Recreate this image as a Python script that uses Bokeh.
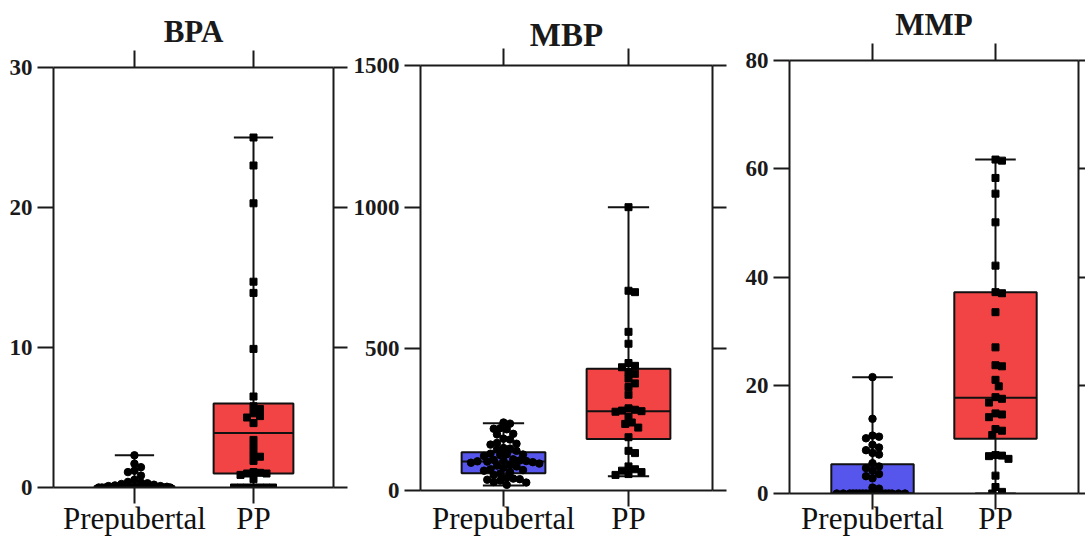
from bokeh.plotting import figure
from bokeh.models import LinearAxis, FixedTicker, Range1d, ColumnDataSource
from bokeh.embed import file_html
from bokeh.resources import INLINE

# ---------------- data ----------------
categories = ["Prepubertal", "PP"]
group_x = [1, 2]
titles = ["BPA", "MBP", "MMP"]

bpa_pre = [2.3, 1.7, 1.45, 1.2, 1.1, 0.85, 0.55, 0.4, 0.35, 0.3, 0.25, 0.2, 0.15,
           0.1, 0.1, 0.05, 0.05, 0, 0, 0, 0, 0, 0, 0, 0, 0, 0, 0, 0, 0, 0, 0,
           0, 0, 0, 0, 0, 0, 0]
bpa_pp = [25.0, 23.0, 20.3, 14.7, 13.9, 9.9, 6.5, 5.8, 5.6, 5.3, 5.1, 5.0, 4.6,
          3.4, 2.9, 2.4, 2.2, 1.9, 1.1, 1.05, 1.0, 1.0, 0.9, 0.6, 0, 0, 0, 0,
          0, 0, 0]
bpa_min = [0.0, 0.0]
bpa_q1 = [0.0, 1.0]
bpa_med = [0.0, 3.9]
bpa_q3 = [0.1, 6.0]
bpa_max = [2.3, 25.0]

mbp_pre = [240, 236, 220, 218, 216, 200, 198, 183, 180, 168, 165, 162, 150, 148,
           145, 140, 130, 128, 127, 125, 122, 110, 108, 106, 105, 104, 103, 102,
           100, 98, 95, 90, 88, 85, 80, 75, 72, 70, 65, 60, 55, 45, 42, 40, 38,
           35, 30, 28, 20]
mbp_pp = [1000, 705, 700, 560, 518, 450, 440, 435, 418, 412, 395, 378, 365, 338,
          290, 285, 282, 280, 278, 260, 240, 235, 222, 188, 140, 132, 85, 75, 70,
          65, 58, 55]
mbp_min = [18, 50]
mbp_q1 = [61, 182]
mbp_med = [102, 280]
mbp_q3 = [135, 430]
mbp_max = [237, 1000]

mmp_pre = [21.5, 13.8, 10.7, 10.5, 10.2, 9.0, 8.5, 8.0, 7.5, 7.2, 5.6, 5.0, 4.7,
           4.2, 3.6, 3.2, 2.8, 1.1, 0.9, 0, 0, 0, 0, 0, 0, 0, 0, 0, 0, 0, 0, 0,
           0, 0, 0, 0, 0]
mmp_pp = [61.7, 61.5, 58.3, 55.4, 50.1, 42.1, 37.2, 37.0, 33.5, 27.0, 23.7, 23.5,
          21.0, 19.8, 17.8, 17.5, 16.8, 14.8, 14.6, 14.1, 11.9, 11.6, 10.8, 7.1,
          7.0, 6.9, 6.4, 3.3, 1.2, 0.3, 0.0]
mmp_min = [0.0, 0.0]
mmp_q1 = [0.0, 10.1]
mmp_med = [0.0, 17.7]
mmp_q3 = [5.4, 37.2]
mmp_max = [21.5, 61.7]

bpa_ticks = [0, 10, 20, 30]
mbp_ticks = [0, 500, 1000, 1500]
mmp_ticks = [0, 20, 40, 60, 80]

# ---------------- style ----------------
FONT = "Liberation Serif"
INK = "#1a1a1a"
BLUE = "#5656EC"
RED = "#F24444"
BOX_W = 0.67
CAP_W = 0.33


def swarm(vals, ppx, ppy, d, half):
    """Simple beeswarm: horizontal offsets (data units) avoiding overlaps."""
    step = d / 2.0
    placed = []
    offs = []
    kmax = int(half // step)
    cands = [0]
    for k in range(1, kmax + 1):
        cands += [k * step, -k * step]
    for v in vals:
        y = v * ppy
        best, best_d = 0, -1
        chosen = None
        for c in cands:
            md = min([((c - px) ** 2 + (y - py) ** 2) ** 0.5 for px, py in placed] or [1e9])
            if md >= d:
                chosen = c
                break
            if md > best_d:
                best, best_d = c, md
        if chosen is None:
            chosen = best
        placed.append((chosen, y))
        offs.append(chosen / ppx)
    return offs


def panel(title, pre, pp, mn, q1, md, q3, mx, ticks, ymax, xr, left_px, width,
          bl, br, bt, bb, tsize, tstand, rtick, bstand):
    p = figure(width=width, height=538, x_range=Range1d(*xr), y_range=Range1d(0, ymax),
               output_backend="svg", toolbar_location=None, title=title,
               x_axis_location=None, y_axis_location=None,
               min_border_left=bl, min_border_right=br,
               min_border_top=bt, min_border_bottom=bb)
    p.styles = {"position": "absolute", "left": f"{left_px}px", "top": "0px"}
    p.grid.visible = False
    p.outline_line_color = None
    p.background_fill_color = "white"
    p.border_fill_color = "white"

    p.title.align = "center"
    p.title.text_font = FONT
    p.title.text_font_style = "bold"
    p.title.text_font_size = tsize
    p.title.text_color = INK
    p.title.standoff = tstand

    common = dict(axis_line_width=2, axis_line_color=INK, major_tick_line_width=2,
                  major_tick_line_color=INK, major_tick_in=0, minor_tick_in=0,
                  minor_tick_out=0)

    left = LinearAxis(ticker=FixedTicker(ticks=ticks), major_tick_out=16,
                      major_label_text_font=FONT, major_label_text_font_style="bold",
                      major_label_text_font_size="23px", major_label_text_color=INK,
                      major_label_standoff=5, **common)
    p.add_layout(left, "left")
    right = LinearAxis(ticker=FixedTicker(ticks=ticks), major_tick_out=rtick,
                       major_label_overrides={t: "" for t in ticks},
                       major_label_text_color=None, major_label_text_font_size="1px",
                       major_label_standoff=0, **common)
    p.add_layout(right, "right")
    bottom = LinearAxis(ticker=FixedTicker(ticks=group_x),
                        major_label_overrides={gx: c for gx, c in zip(group_x, categories)},
                        major_tick_out=16, major_label_text_font=FONT,
                        major_label_text_font_size="31px", major_label_text_color="#111111",
                        major_label_standoff=bstand, **common)
    p.add_layout(bottom, "below")
    top = LinearAxis(ticker=FixedTicker(ticks=group_x), major_tick_out=17,
                     major_label_overrides={gx: "" for gx in group_x},
                     major_label_text_color=None, major_label_text_font_size="1px",
                     major_label_standoff=0, **common)
    p.add_layout(top, "above")

    fw = width - bl - br
    fh = 538 - bt - bb
    ppx = fw / (xr[1] - xr[0])
    ppy = fh / ymax

    src = ColumnDataSource(dict(x=group_x, mn=mn, q1=q1, md=md, q3=q3, mx=mx,
                                color=[BLUE, RED],
                                cl=[g - CAP_W / 2 for g in group_x],
                                cr=[g + CAP_W / 2 for g in group_x],
                                bl=[g - BOX_W / 2 for g in group_x],
                                br=[g + BOX_W / 2 for g in group_x]))
    p.segment(x0="x", y0="mn", x1="x", y1="mx", source=src, line_width=2, line_color="#111111")
    p.segment(x0="cl", y0="mx", x1="cr", y1="mx", source=src, line_width=2, line_color="#111111")
    p.segment(x0="cl", y0="mn", x1="cr", y1="mn", source=src, line_width=2, line_color="#111111")
    p.vbar(x="x", width=BOX_W, bottom="q1", top="q3", source=src, fill_color="color",
           line_color="#111111", line_width=2)
    p.segment(x0="bl", y0="md", x1="br", y1="md", source=src, line_width=2, line_color="#111111")

    half = BOX_W / 2 * ppx - 3
    off_pre = swarm(pre, ppx, ppy, 6.5, half)
    off_pp = swarm(pp, ppx, ppy, 6.5, half)
    p.scatter(x=[group_x[0] + o for o in off_pre], y=pre, marker="circle", size=7.5,
              fill_color="black", line_color="black")
    p.scatter(x=[group_x[1] + o for o in off_pp], y=pp, marker="square", size=7,
              fill_color="black", line_color="black")
    return p


p1 = panel(titles[0], bpa_pre, bpa_pp, bpa_min, bpa_q1, bpa_med, bpa_q3, bpa_max,
           bpa_ticks, 30, (0.32, 2.672), 0, 348, 53, 15, 67, 51, "31px", 3.5, 14, -3)
p2 = panel(titles[1], mbp_pre, mbp_pp, mbp_min, mbp_q1, mbp_med, mbp_q3, mbp_max,
           mbp_ticks, 1500, (0.336, 2.672), 348, 387, 72, 23, 65, 48, "33px", -8, 14, -6)
p3 = panel(titles[2], mmp_pre, mmp_pp, mmp_min, mmp_q1, mmp_med, mmp_q3, mmp_max,
           mmp_ticks, 80, (0.325, 2.675), 735, 350, 54, 7, 60, 45, "31px", 2.5, 7, -9)

p = [p1, p2, p3]
open("out.html", "w").write(file_html(p, INLINE))
